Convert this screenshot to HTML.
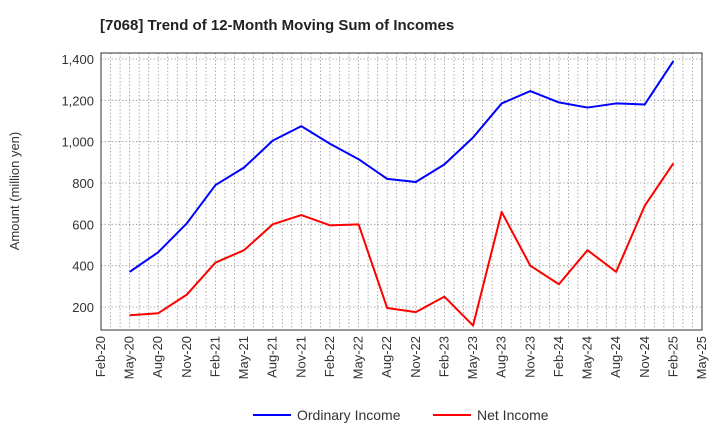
<!DOCTYPE html>
<html><head><meta charset="utf-8"><style>
body{margin:0;background:#fff;font-family:"Liberation Sans",sans-serif}
</style></head><body>
<svg id="c" width="720" height="440" xmlns="http://www.w3.org/2000/svg" font-family="Liberation Sans, sans-serif">
<text x="100" y="30" font-size="15" font-weight="bold" fill="#222">[7068]  Trend of 12-Month Moving Sum of Incomes</text>
<text transform="translate(19,191) rotate(-90)" text-anchor="middle" font-size="13" fill="#333">Amount (million yen)</text>
<g id="grid"></g><g id="axes"></g><g id="series"></g>
<g>
<line x1="253" y1="415" x2="291" y2="415" stroke="#0000ff" stroke-width="2"/>
<text x="297" y="420" font-size="14" fill="#333">Ordinary Income</text>
<line x1="433" y1="415" x2="471" y2="415" stroke="#ff0000" stroke-width="2"/>
<text x="477" y="420" font-size="14" fill="#333">Net Income</text>
</g>
</svg>
<script>
const xLabels=["Feb-20","May-20","Aug-20","Nov-20","Feb-21","May-21","Aug-21","Nov-21","Feb-22","May-22","Aug-22","Nov-22","Feb-23","May-23","Aug-23","Nov-23","Feb-24","May-24","Aug-24","Nov-24","Feb-25","May-25"];
const yTicks=[200,400,600,800,1000,1200,1400];
const ordinary=[370,465,605,790,875,1005,1075,990,915,820,805,890,1020,1185,1245,1190,1165,1185,1180,1390];
const net=[160,170,260,415,475,600,645,595,600,195,175,250,110,660,400,310,475,370,690,895];
const L=101,R=702,T=53,B=330;
const NS="http://www.w3.org/2000/svg";
const step=(R-L)/(xLabels.length-1);
const X=i=>L+i*step;
const Y=v=>307-(v-200)*(248/1200);
function mk(p,tag,a){const e=document.createElementNS(NS,tag);for(const k in a)e.setAttribute(k,a[k]);document.getElementById(p).appendChild(e);return e;}
const nMonths=(xLabels.length-1)*3;
for(let m=1;m<nMonths;m++){const x=L+m*step/3;
 const e=mk('grid','line',{x1:x,y1:T,x2:x,y2:B,stroke:'#999','stroke-width':0.8,'stroke-dasharray':'1.5,2'});
 }
yTicks.forEach(v=>{const y=Y(v);
 const g=mk('grid','line',{x1:L,y1:y,x2:R,y2:y,stroke:'#999','stroke-width':0.8,'stroke-dasharray':'1.5,2'});
 
 const t=mk('axes','text',{x:L-7,y:y+5,'text-anchor':'end','font-size':13,fill:'#333'});
 t.textContent=v.toLocaleString('en-US');
 });
xLabels.forEach((s,i)=>{const x=X(i);
 const t=mk('axes','text',{transform:`translate(${x+4},${B+6}) rotate(-90)`,'text-anchor':'end','font-size':13,fill:'#333'});
 t.textContent=s;});
const fr=mk('axes','rect',{x:L,y:T,width:R-L,height:B-T,fill:'none',stroke:'#333','stroke-width':1});

function line(d,c,n){const p=mk('series','polyline',{points:d.map((v,i)=>X(i+1)+','+Y(v)).join(' '),fill:'none',stroke:c,'stroke-width':2,'stroke-linejoin':'round'});
 }
line(ordinary,'#0000ff','ordinary-income-line');
line(net,'#ff0000','net-income-line');
</script>
</body></html>
